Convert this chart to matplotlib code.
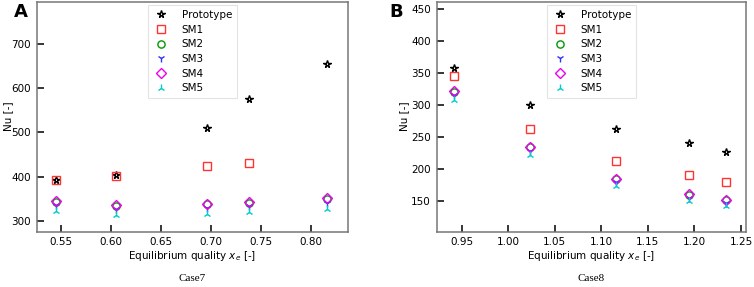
import numpy as np
import matplotlib
matplotlib.use("Agg")
import matplotlib.pyplot as plt

# ---- data ----
series_names = ["Prototype", "SM1", "SM2", "SM3", "SM4", "SM5"]

x_case7 = [0.545, 0.605, 0.696, 0.738, 0.816]
proto_case7 = [394, 405, 510, 576, 655]
sm1_case7 = [394, 402, 424, 432, np.nan]
sm2_case7 = [344, 335, 339, 342, 351]
sm3_case7 = [336, 327, 330, 334, 342]
sm4_case7 = [345, 336, 340, 343, 352]
sm5_case7 = [324, 315, 317, 321, 327]

x_case8 = [0.942, 1.023, 1.116, 1.194, 1.234]
proto_case8 = [357, 299, 263, 241, 226]
sm1_case8 = [345, 263, 212, 190, 180]
sm2_case8 = [320, 234, 184, 159, 151]
sm3_case8 = [315, 228, 179, 155, 146]
sm4_case8 = [321, 234, 184, 160, 151]
sm5_case8 = [308, 222, 174, 150, 142]

xticks_case7 = [0.55, 0.60, 0.65, 0.70, 0.75, 0.80]
xticks_case8 = [0.95, 1.00, 1.05, 1.10, 1.15, 1.20, 1.25]
yticks_case7 = [300, 400, 500, 600, 700]
yticks_case8 = [150, 200, 250, 300, 350, 400, 450]

styles = [
    dict(marker="*", color="black", ms=5.5),
    dict(marker="s", color="#ff3333", ms=5.2),
    dict(marker="o", color="#009900", ms=5.2),
    dict(marker="1", color="#3333ff", ms=6),
    dict(marker="D", color="#ee00ee", ms=5),
    dict(marker="2", color="#00cccc", ms=6),
]

fig = plt.figure(figsize=(7.54, 2.87), dpi=100)
axA = fig.add_axes([0.0487, 0.193, 0.4125, 0.801])
axB = fig.add_axes([0.579, 0.193, 0.4105, 0.801])

def draw(ax, x, ys, xticks, yticks, xlim, ylim, letter, letter_x, ylab_x, case):
    for name, y, st in zip(series_names, ys, styles):
        ax.plot(x, y, linestyle="none", marker=st["marker"], color=st["color"],
                markersize=st["ms"], markerfacecolor="none",
                markeredgewidth=1.0, label=name)
    ax.set_xlim(*xlim)
    ax.set_ylim(*ylim)
    ax.set_xticks(xticks)
    ax.set_xticklabels([f"{t:.2f}" for t in xticks])
    ax.set_yticks(yticks)
    ax.tick_params(direction="in", length=5, width=1.1, labelsize=7.5,
                   color="black", pad=4)
    for s in ax.spines.values():
        s.set_color("#777777")
        s.set_linewidth(1.1)
    ax.set_xlabel("Equilibrium quality $x_e$ [-]", fontsize=7.5, labelpad=1)
    ax.set_ylabel("Nu [-]", fontsize=7.5)
    ax.yaxis.set_label_coords(ylab_x, 0.5)
    leg = ax.legend(loc="upper center", fontsize=7.5, labelspacing=0.45,
                    handletextpad=1.2, borderpad=0.45, borderaxespad=0.35,
                    handlelength=1.6, fancybox=False)
    leg.get_frame().set_edgecolor("#dddddd")
    leg.get_frame().set_linewidth(0.8)
    fig.text(letter_x, 1 - 3 / 287, letter, fontsize=13,
             fontweight="bold", ha="left", va="top")
    ax.text(0.5, -0.205, case, transform=ax.transAxes, fontsize=8,
            family="Liberation Serif", ha="center", va="center")

draw(axA, x_case7,
     [proto_case7, sm1_case7, sm2_case7, sm3_case7, sm4_case7, sm5_case7],
     xticks_case7, yticks_case7, (0.5257, 0.8366), (277, 794),
     "A", 14 / 754, -0.076, "Case7")
draw(axB, x_case8,
     [proto_case8, sm1_case8, sm2_case8, sm3_case8, sm4_case8, sm5_case8],
     xticks_case8, yticks_case8, (0.923, 1.2555), (102, 461),
     "B", 389 / 754, -0.09, "Case8")

fig.savefig("out.png", dpi=100)
